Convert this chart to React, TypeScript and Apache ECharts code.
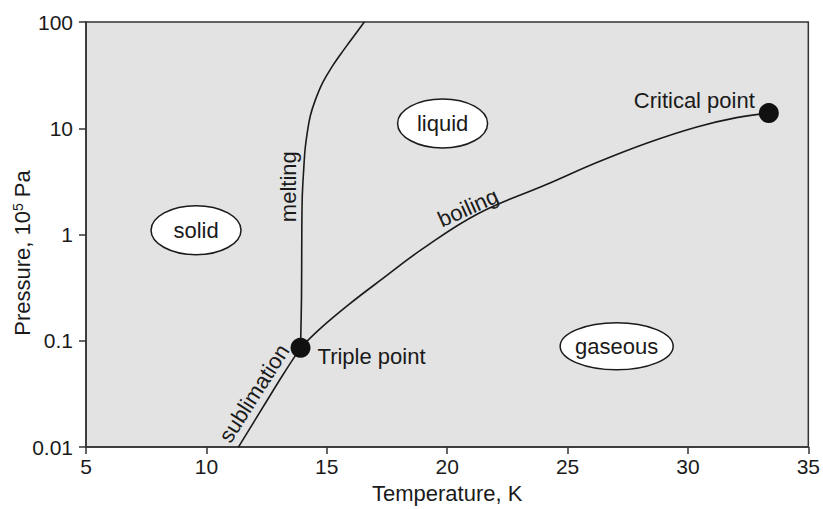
import React, { useEffect, useRef } from 'react';
import * as echarts from 'echarts';

// ---- data ----
const xTickValues = [5, 10, 15, 20, 25, 30, 35];
const yTickLabels = ['0.01', '0.1', '1', '10', '100'];

const meltingT = [13.91, 13.95, 13.96, 13.98, 14.05, 14.1, 14.19, 14.32, 14.53, 14.83, 15.22, 15.56, 15.89, 16.56];
const meltingP = [0.0859, 0.252, 0.738, 2.16, 4.4, 6.38, 9.12, 13.2, 18.6, 26.9, 38.0, 49.2, 62.4, 100];

const boilingT = [13.91, 14.67, 15.91, 17.36, 18.93, 21.28, 24.17, 26.24, 28.31, 30.37, 32.02, 33.36];
const boilingP = [0.0859, 0.127, 0.219, 0.391, 0.721, 1.57, 2.99, 4.79, 7.28, 10.3, 12.6, 13.9];

const sublimationT = [11.33, 12.5, 13.18, 13.91];
const sublimationP = [0.01, 0.027, 0.048, 0.0859];

const pointNames = ['Triple point', 'Critical point'];
const pointT = [13.91, 33.36];
const pointP = [0.0859, 13.9];

const phaseNames = ['solid', 'liquid', 'gaseous'];
const phaseT = [9.57, 19.81, 27.04];
const phaseP = [1.1, 11.1, 0.089];

const curveNames = ['melting', 'boiling', 'sublimation'];
const curveLabelT = [13.43, 20.87, 11.98];
const curveLabelP = [2.82, 1.79, 0.0321];

// ---- styles ----
const FONT = '"Liberation Sans", Arial, Helvetica, sans-serif';
const INK = '#1a1a1a';
const AXIS = '#333333';
const ellipseSize: Record<string, [number, number]> = {
  solid: [45, 24.5],
  liquid: [45, 24.5],
  gaseous: [56.5, 23.5],
};
const curveLabelRotationDeg = [90, 24, 57.5];
const pointLabelStyles = [
  { position: 'right', distance: 7, offset: [0, 9] },
  { position: 'left', distance: 4, offset: [0, -13] },
];

const zip = (a: number[], b: number[]) => a.map((v, i) => [v, b[i]]);

export default function App() {
  const ref = useRef<HTMLDivElement>(null);

  useEffect(() => {
    if (!ref.current) return;
    const chart = echarts.init(ref.current, undefined, { renderer: 'svg' });

    const lineBase = {
      type: 'line',
      showSymbol: false,
      smooth: 0.4,
      lineStyle: { color: INK, width: 1.6 },
      z: 3,
      silent: true,
    };

    const option: any = {
      animation: false,
      backgroundColor: '#ffffff',
      grid: {
        left: 86,
        right: 11,
        top: 22,
        bottom: 59,
        show: true,
        backgroundColor: '#e3e3e3',
        borderColor: AXIS,
        borderWidth: 1.5,
      },
      xAxis: {
        type: 'value',
        min: 5,
        max: 35,
        interval: 5,
        name: 'Temperature, K',
        nameLocation: 'middle',
        nameGap: 34,
        nameTextStyle: { fontSize: 22, color: INK, fontFamily: FONT },
        axisLine: { show: true, lineStyle: { color: AXIS, width: 1.5 } },
        axisTick: { show: true, length: 7, inside: false, lineStyle: { color: AXIS, width: 1.5 } },
        axisLabel: {
          fontSize: 21,
          color: INK,
          fontFamily: FONT,
          margin: 9,
          formatter: (v: number) => (xTickValues.includes(v) ? String(v) : ''),
        },
        splitLine: { show: false },
      },
      yAxis: {
        type: 'log',
        logBase: 10,
        min: 0.01,
        max: 100,
        axisLine: { show: true, lineStyle: { color: AXIS, width: 1.5 } },
        axisTick: { show: true, length: 7, inside: false, lineStyle: { color: AXIS, width: 1.5 } },
        axisLabel: {
          fontSize: 21,
          color: INK,
          fontFamily: FONT,
          margin: 13,
          formatter: (v: number) => {
            const idx = Math.round(Math.log10(v)) + 2;
            return yTickLabels[idx] ?? '';
          },
        },
        splitLine: { show: false },
      },
      graphic: [
        {
          type: 'text',
          x: 22,
          y: 253,
          rotation: Math.PI / 2,
          style: {
            text: 'Pressure, 10{sup|5} Pa',
            fontSize: 22,
            fontFamily: FONT,
            fill: INK,
            align: 'center',
            verticalAlign: 'middle',
            rich: {
              sup: { fontSize: 14, fontFamily: FONT, fill: INK, verticalAlign: 'top', lineHeight: 14, padding: [0, 0, 8, 0] },
            },
          },
        },
      ],
      series: [
        { ...lineBase, name: 'melting', data: zip(meltingT, meltingP) },
        { ...lineBase, name: 'boiling', data: zip(boilingT, boilingP) },
        { ...lineBase, name: 'sublimation', data: zip(sublimationT, sublimationP) },
        {
          type: 'custom',
          name: 'phases',
          coordinateSystem: 'cartesian2d',
          silent: true,
          z: 5,
          data: zip(phaseT, phaseP),
          renderItem: (params: any, api: any) => {
            const p = api.coord([api.value(0), api.value(1)]);
            const name = phaseNames[params.dataIndex];
            const [rx, ry] = ellipseSize[name];
            return {
              type: 'group',
              children: [
                {
                  type: 'ellipse',
                  shape: { cx: p[0], cy: p[1], rx, ry },
                  style: { fill: '#ffffff', stroke: INK, lineWidth: 1.5 },
                },
                {
                  type: 'text',
                  x: p[0],
                  y: p[1],
                  style: {
                    text: name,
                    fontSize: 22,
                    fontFamily: FONT,
                    fill: INK,
                    align: 'center',
                    verticalAlign: 'middle',
                  },
                },
              ],
            };
          },
        },
        {
          type: 'custom',
          name: 'curveLabels',
          coordinateSystem: 'cartesian2d',
          silent: true,
          z: 6,
          data: zip(curveLabelT, curveLabelP),
          renderItem: (params: any, api: any) => {
            const p = api.coord([api.value(0), api.value(1)]);
            const i = params.dataIndex;
            return {
              type: 'text',
              x: p[0],
              y: p[1],
              rotation: (curveLabelRotationDeg[i] * Math.PI) / 180,
              style: {
                text: curveNames[i],
                fontSize: 22,
                fontFamily: FONT,
                fill: INK,
                align: 'center',
                verticalAlign: 'middle',
              },
            };
          },
        },
        {
          type: 'scatter',
          name: 'points',
          symbol: 'circle',
          symbolSize: 20,
          z: 10,
          silent: true,
          itemStyle: { color: '#111111', opacity: 1 },
          label: {
            show: true,
            formatter: '{b}',
            fontSize: 22,
            fontFamily: FONT,
            color: INK,
            opacity: 1,
          },
          data: pointNames.map((n, i) => ({
            name: n,
            value: [pointT[i], pointP[i]],
            label: pointLabelStyles[i],
          })),
        },
      ],
    };

    chart.setOption(option);
    return () => chart.dispose();
  }, []);

  return (
    <div
      ref={ref}
      style={{ position: 'fixed', left: 0, top: 0, width: 823, height: 509, background: '#fff' }}
    />
  );
}
